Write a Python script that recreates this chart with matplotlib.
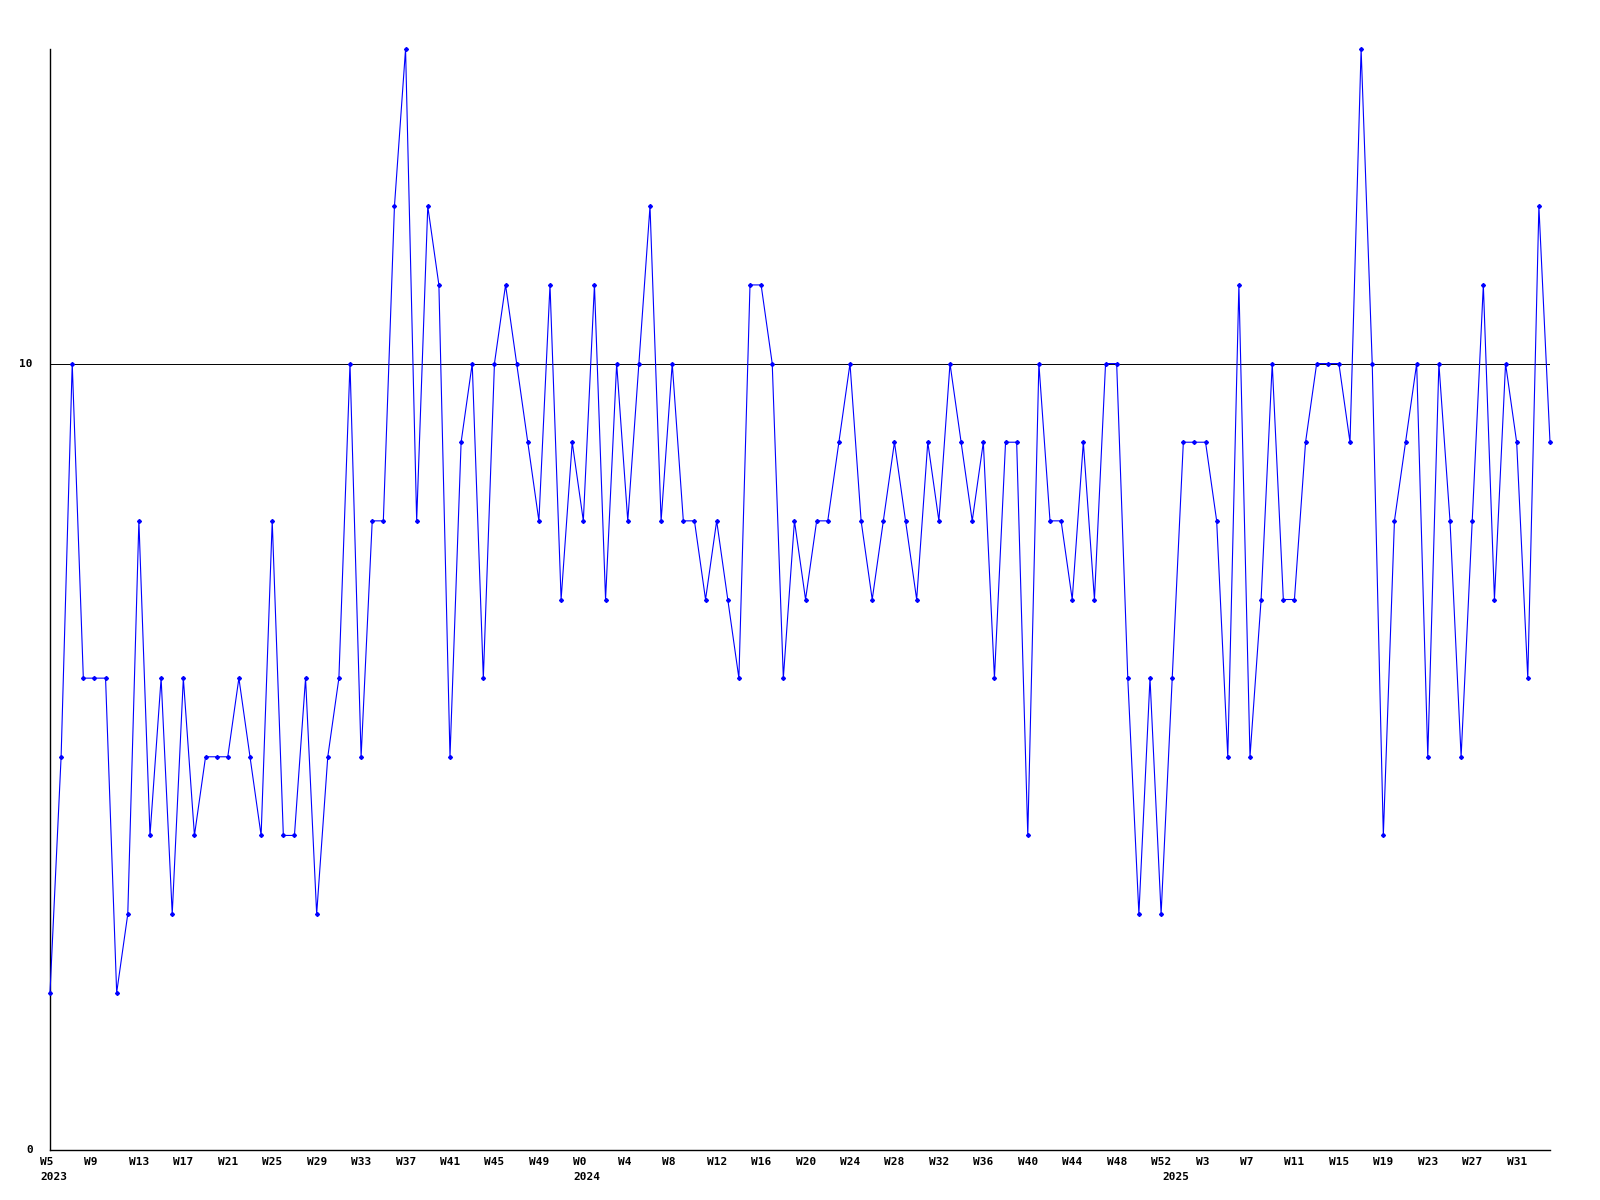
import matplotlib
matplotlib.use("Agg")
import matplotlib.pyplot as plt
from matplotlib.transforms import offset_copy

# Weekly values (one per week, 2023 W5 .. 2025 W34)
values = [2, 5, 10, 6, 6, 6, 2, 3, 8, 4, 6, 3, 6, 4, 5, 5, 5, 6, 5, 4,
          8, 4, 4, 6, 3, 5, 6, 10, 5, 8, 8, 12, 14, 8, 12, 11, 5, 9, 10, 6,
          10, 11, 10, 9, 8, 11, 7, 9, 8, 11, 7, 10, 8, 10, 12, 8, 10, 8, 8, 7,
          8, 7, 6, 11, 11, 10, 6, 8, 7, 8, 8, 9, 10, 8, 7, 8, 9, 8, 7, 9,
          8, 10, 9, 8, 9, 6, 9, 9, 4, 10, 8, 8, 7, 9, 7, 10, 10, 6, 3, 6,
          3, 6, 9, 9, 9, 8, 5, 11, 5, 7, 10, 7, 7, 9, 10, 10, 10, 9, 14, 10,
          4, 8, 9, 10, 5, 10, 8, 5, 8, 11, 7, 10, 9, 6, 12, 9]

week_tick_labels = ["W5", "W9", "W13", "W17", "W21", "W25", "W29", "W33", "W37",
                    "W41", "W45", "W49", "W0", "W4", "W8", "W12", "W16", "W20",
                    "W24", "W28", "W32", "W36", "W40", "W44", "W48", "W52", "W3",
                    "W7", "W11", "W15", "W19", "W23", "W27", "W31"]
year_labels = ["2023", "2024", "2025"]
year_start_index = [0, 48, 101]
ref_value = 10
y_ticks = [0, 10]

fig = plt.figure(figsize=(16, 12), dpi=100)
ax = fig.add_axes([50 / 1600, 50 / 1200, 1500 / 1600, (1150 - 49) / 1200])

x = list(range(len(values)))
ax.plot(x, values, color="#0000ff", lw=0.8, marker="D", markersize=2.0,
        markerfacecolor="#0000ff", markeredgecolor="#0000ff", clip_on=False, zorder=3)
ax.axhline(ref_value, color="black", lw=0.7, zorder=2)

ax.set_xlim(0, len(values) - 1)
ax.set_ylim(0, 14)

for s in ["top", "right"]:
    ax.spines[s].set_visible(False)
for s in ["left", "bottom"]:
    ax.spines[s].set_linewidth(1.0)
    ax.spines[s].set_color("black")

ax.set_xticks([])
ax.set_yticks([])

font = dict(family="DejaVu Sans Mono", weight="bold", size=8, color="black")

# y labels
ytr = offset_copy(ax.get_yaxis_transform(), fig=fig, x=-17, y=0, units="dots")
for v in y_ticks:
    ax.text(0, v, str(v), transform=ytr, ha="right", va="center", **font)

# week labels
wtr = offset_copy(ax.get_xaxis_transform(), fig=fig, x=-10, y=-7, units="dots")
for k, lab in enumerate(week_tick_labels):
    ax.text(4 * k, 0, lab, transform=wtr, ha="left", va="top", **font)

# year labels
ytr2 = offset_copy(ax.get_xaxis_transform(), fig=fig, x=-10, y=-22, units="dots")
for idx, lab in zip(year_start_index, year_labels):
    ax.text(idx, 0, lab, transform=ytr2, ha="left", va="top", **font)

fig.savefig("out.png", dpi=100)
